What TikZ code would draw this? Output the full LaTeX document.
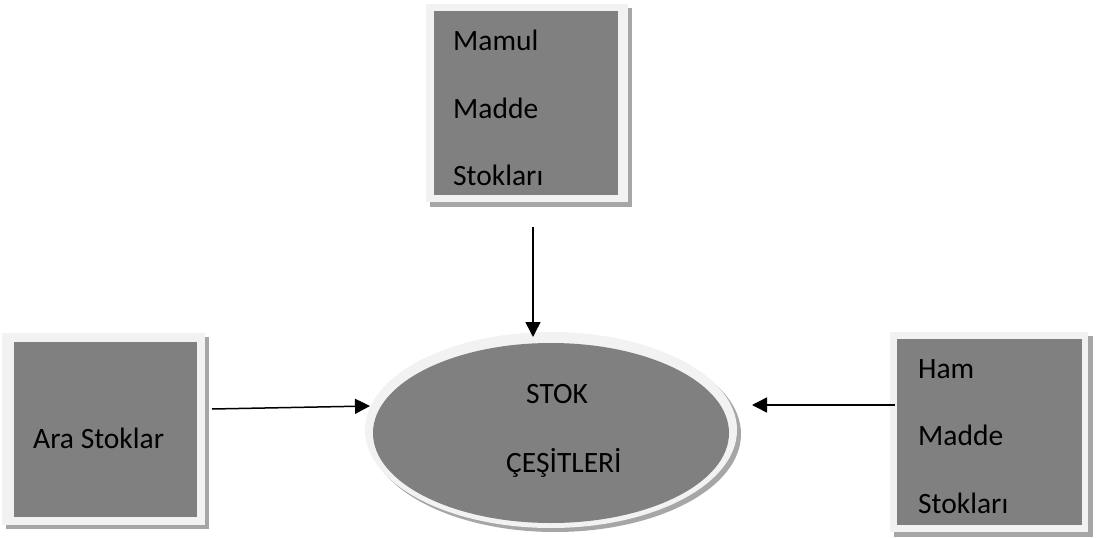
\documentclass[tikz,border=0pt]{standalone}
\usepackage{fontspec}
\setmainfont{Carlito}
\usetikzlibrary{arrows.meta,shapes.geometric}
\definecolor{boxgray}{HTML}{808080}
\definecolor{rimgray}{HTML}{F2F2F2}
\definecolor{shadowgray}{HTML}{A6A6A6}
\tikzset{
  lbl/.style={anchor=base west, inner sep=0pt, font=\fontsize{29.5}{35}\selectfont, text=black},
  rim/.style={fill=rimgray, draw=none},
  core/.style={fill=boxgray, draw=none},
  shade/.style={fill=shadowgray, draw=none},
  conn/.style={line width=1.5pt, -{Triangle[length=15pt,width=15pt]}}
}
\begin{document}
\begin{tikzpicture}[x=1pt,y=-1pt]
\useasboundingbox (0,0) rectangle (1096,538);
% top box
\fill[shade] (430,8) rectangle (632,207);
\fill[rim] (426,4) rectangle (628,202);
\node[core, minimum width=184pt, minimum height=184pt, inner sep=0pt] (topbox) at (526,103) {};
% left box
\fill[shade] (6,337) rectangle (209,529);
\fill[rim] (2,333) rectangle (205,525);
\node[core, minimum width=183pt, minimum height=175pt, inner sep=0pt] (leftbox) at (105.5,429.5) {};
% right box
\fill[shade] (894,336) rectangle (1093,537);
\fill[rim] (890,332) rectangle (1088,532);
\node[core, minimum width=185pt, minimum height=186pt, inner sep=0pt] (rightbox) at (989.5,432) {};
% ellipse
\fill[shade] (555,434) ellipse [x radius=186, y radius=98];
\fill[rim] (551,430) ellipse [x radius=186, y radius=98];
\node[core, ellipse, minimum width=356pt, minimum height=180pt, inner sep=0pt] (center) at (551,433) {};
% texts
\node[lbl] (t1) at (453,50) {Mamul};
\node[lbl] (t2) at (453,118) {Madde};
\node[lbl] (t3) at (453,185) {Stokları};
\node[lbl] (l1) at (33,448) {Ara Stoklar};
\node[lbl] (r1) at (918,378) {Ham};
\node[lbl] (r2) at (918,445) {Madde};
\node[lbl] (r3) at (918,513) {Stokları};
\node[lbl] (c1) at (526,403) {STOK};
\node[lbl] (c2) at (506,472) {ÇEŞİTLERİ};
% connectors
\coordinate (a1s) at (533,227);
\coordinate (a1e) at (533,337);
\coordinate (a2s) at (212,409);
\coordinate (a2e) at (370,406);
\coordinate (a3s) at (895,405);
\coordinate (a3e) at (752,405);
\draw[conn] (a1s) -- (a1e);
\draw[conn] (a2s) -- (a2e);
\draw[conn] (a3s) -- (a3e);
\end{tikzpicture}
\end{document}
